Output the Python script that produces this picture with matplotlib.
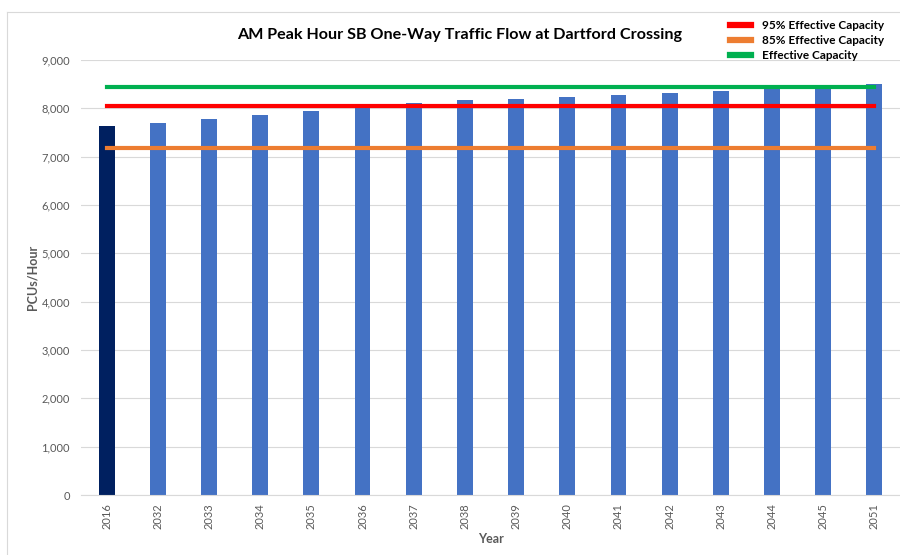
import matplotlib
matplotlib.use("Agg")
import matplotlib.pyplot as plt
from matplotlib.lines import Line2D

plt.rcParams['font.family'] = ['Lato', 'DejaVu Sans']

years = ['2016', '2032', '2033', '2034', '2035', '2036', '2037', '2038', '2039',
         '2040', '2041', '2042', '2043', '2044', '2045', '2051']
flow = [7635, 7697, 7773, 7862, 7938, 8020, 8105, 8165, 8190,
        8235, 8276, 8318, 8359, 8420, 8440, 8504]
cap_95 = 8050
cap_85 = 7175
cap_eff = 8435

bar_colors = ['#002060'] + ['#4472C4'] * (len(years) - 1)

fig = plt.figure(figsize=(9, 5.55), dpi=100)
ax = fig.add_axes([0.09, 0.1081, 0.91, 0.7838])

x = list(range(len(years)))
ax.bar(x, flow, width=0.31, color=bar_colors, zorder=2)

ax.plot([x[0], x[-1]], [cap_95, cap_95], color='#FF0000', lw=3, zorder=3)
ax.plot([x[0], x[-1]], [cap_85, cap_85], color='#ED7D31', lw=3, zorder=3)
ax.plot([x[0], x[-1]], [cap_eff, cap_eff], color='#00B050', lw=3, zorder=3)

ax.set_xlim(-0.5, len(years) - 0.5)
ax.set_ylim(0, 9000)
ax.set_yticks(range(0, 9001, 1000))
ax.set_yticklabels([f'{v:,}' for v in range(0, 9001, 1000)])
ax.set_xticks(x)
ax.set_xticklabels(years, rotation=90)
ax.tick_params(axis='both', colors='#595959', labelsize=8, length=0)
ax.tick_params(axis='y', pad=8)
ax.tick_params(axis='x', pad=6)
ax.grid(axis='y', color='#D9D9D9', lw=0.8, zorder=0)
for s in ['top', 'right', 'left']:
    ax.spines[s].set_visible(False)
ax.spines['bottom'].set_color('#D9D9D9')

ax.set_ylabel('PCUs/Hour', fontsize=9, fontweight='bold', color='#595959', labelpad=2)
ax.set_xlabel('Year', fontsize=9, fontweight='bold', color='#595959', labelpad=3)

fig.text(0.511, 0.937, 'AM Peak Hour SB One-Way Traffic Flow at Dartford Crossing',
         ha='center', va='center', fontsize=11.6, fontweight='bold', color='black')

handles = [Line2D([], [], color='#FF0000', lw=4.5),
           Line2D([], [], color='#ED7D31', lw=4.5),
           Line2D([], [], color='#00B050', lw=4.5)]
labels = ['95% Effective Capacity', '85% Effective Capacity', 'Effective Capacity']
fig.legend(handles, labels, loc='upper left', bbox_to_anchor=(0.811, 0.964),
           frameon=False, prop={'size': 8.5, 'weight': 'bold'}, handlelength=1.8,
           handletextpad=0.9, labelspacing=0.35, borderaxespad=0, borderpad=0)

# chart border
fig.add_artist(Line2D([7/900, 7/900], [0, 1 - 12/555], transform=fig.transFigure,
                      color='#D9D9D9', lw=0.8))
fig.add_artist(Line2D([7/900, 1], [1 - 12/555, 1 - 12/555], transform=fig.transFigure,
                      color='#D9D9D9', lw=0.8))

fig.savefig('out.png', dpi=100)
